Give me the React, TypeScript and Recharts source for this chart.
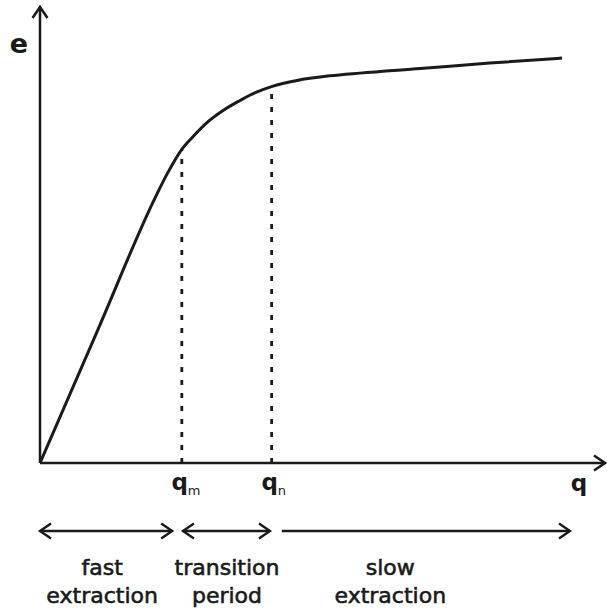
import { LineChart, Line, XAxis, YAxis, ReferenceLine, ReferenceDot } from 'recharts';

// curve (q on 0..100, e on 0..100)
const qValues = [0, 10.2, 20.35, 22.5, 25.1, 27.1, 29.6, 32.4, 35.4, 37.2, 41.1, 45.5, 51.3, 56.6, 67.3, 79.6, 92.4];
const eValues = [0, 29.1, 58.1, 63.4, 68.8, 71.6, 74.7, 77.3, 79.5, 80.7, 82.6, 83.9, 84.9, 85.5, 86.5, 87.7, 88.8];

// marked points on the q axis
const markQ = [25.1, 41.0];
const markE = [68.8, 82.6];
const markSub = ['m', 'n'];

// extraction regions below the axis
const regionStart = [0, 25.3, 42.8];
const regionEnd = [23.4, 40.7, 93.8];
const regionBoth = [true, true, false];
const regionLabelQ = [11.0, 33.1, 62.0];
const regionLine1 = ['fast', 'transition', 'slow'];
const regionLine2 = ['extraction', 'period', 'extraction'];
const regionLevel = -14.9;

const data = qValues.map((q, i) => ({ q, e: eValues[i] }));

const FONT = '"DejaVu Sans", sans-serif';
const INK = '#1a1a1a';

const chevron = (x: number, y: number, dx: number, dy: number, len: number, half: number, w: number) => {
  // dx, dy = direction the arrow points
  const bx = x - dx * len;
  const by = y - dy * len;
  const px = -dy * half;
  const py = dx * half;
  return (
    <polyline
      points={`${bx + px},${by + py} ${x},${y} ${bx - px},${by - py}`}
      fill="none"
      stroke={INK}
      strokeWidth={w}
      strokeLinejoin="miter"
    />
  );
};

const arrowShape = (both: boolean, w: number, extra?: (p: any) => any) => (p: any) => {
  const { x1, y1, x2, y2 } = p;
  const L = Math.hypot(x2 - x1, y2 - y1) || 1;
  const dx = (x2 - x1) / L;
  const dy = (y2 - y1) / L;
  return (
    <g>
      <line x1={x1} y1={y1} x2={x2} y2={y2} stroke={INK} strokeWidth={w} />
      {chevron(x2, y2, dx, dy, 11, 7.5, w)}
      {both && chevron(x1, y1, -dx, -dy, 11, 7.5, w)}
      {extra && extra(p)}
    </g>
  );
};

export default function App() {
  return (
    <div style={{ position: 'absolute', left: 0, top: 0, width: 607, height: 608, background: '#fff' }}>
      <LineChart width={607} height={608} data={data} margin={{ top: 7, right: 2, bottom: 145, left: 40 }}>
        <XAxis type="number" dataKey="q" domain={[0, 100]} allowDataOverflow hide />
        <YAxis type="number" domain={[0, 100]} allowDataOverflow hide />

        {/* axes with arrow heads */}
        <ReferenceLine
          segment={[{ x: 0, y: 0 }, { x: 0, y: 100 }]}
          ifOverflow="visible"
          shape={arrowShape(false, 2.5, (p) => (
            <text x={p.x2 - 21} y={p.y2 + 46} textAnchor="middle" fontFamily={FONT} fontWeight="bold" fontSize={27} fill={INK}>
              e
            </text>
          ))}
        />
        <ReferenceLine
          segment={[{ x: 0, y: 0 }, { x: 100, y: 0 }]}
          ifOverflow="visible"
          shape={arrowShape(false, 2.5, (p) => (
            <text x={p.x2 - 26} y={p.y2 + 28} textAnchor="middle" fontFamily={FONT} fontWeight="bold" fontSize={23} fill={INK}>
              q
            </text>
          ))}
        />

        {/* dashed guides */}
        {markQ.map((q, i) => (
          <ReferenceLine
            key={`d${i}`}
            segment={[{ x: q, y: 0 }, { x: q, y: markE[i] }]}
            stroke={INK}
            strokeWidth={2.8}
            strokeDasharray="5 8"
            ifOverflow="visible"
          />
        ))}
        {markQ.map((q, i) => (
          <ReferenceDot
            key={`m${i}`}
            x={q}
            y={0}
            ifOverflow="visible"
            shape={(p: any) => (
              <g>
                <text x={p.cx - 2} y={p.cy + 27} textAnchor="middle" fontFamily={FONT} fontWeight="bold" fontSize={23} fill={INK}>
                  q
                </text>
                <text x={p.cx + 6} y={p.cy + 32} textAnchor="start" fontFamily={FONT} fontSize={13} fill={INK}>
                  {markSub[i]}
                </text>
              </g>
            )}
          />
        ))}

        {/* region arrows and labels */}
        {regionStart.map((s, i) => (
          <ReferenceLine
            key={`r${i}`}
            segment={[{ x: s, y: regionLevel }, { x: regionEnd[i], y: regionLevel }]}
            ifOverflow="visible"
            shape={arrowShape(regionBoth[i], 2.4)}
          />
        ))}
        {regionLabelQ.map((q, i) => (
          <ReferenceDot
            key={`t${i}`}
            x={q}
            y={regionLevel}
            ifOverflow="visible"
            shape={(p: any) => (
              <g fontFamily={FONT} fontSize={22} fill={INK} stroke={INK} strokeWidth={0.6} textAnchor="middle">
                <text x={p.cx} y={p.cy + 44}>{regionLine1[i]}</text>
                <text x={p.cx} y={p.cy + 72}>{regionLine2[i]}</text>
              </g>
            )}
          />
        ))}

        <Line
          type="monotone"
          dataKey="e"
          stroke={INK}
          strokeWidth={3}
          dot={false}
          activeDot={false}
          isAnimationActive={false}
        />
      </LineChart>
    </div>
  );
}
